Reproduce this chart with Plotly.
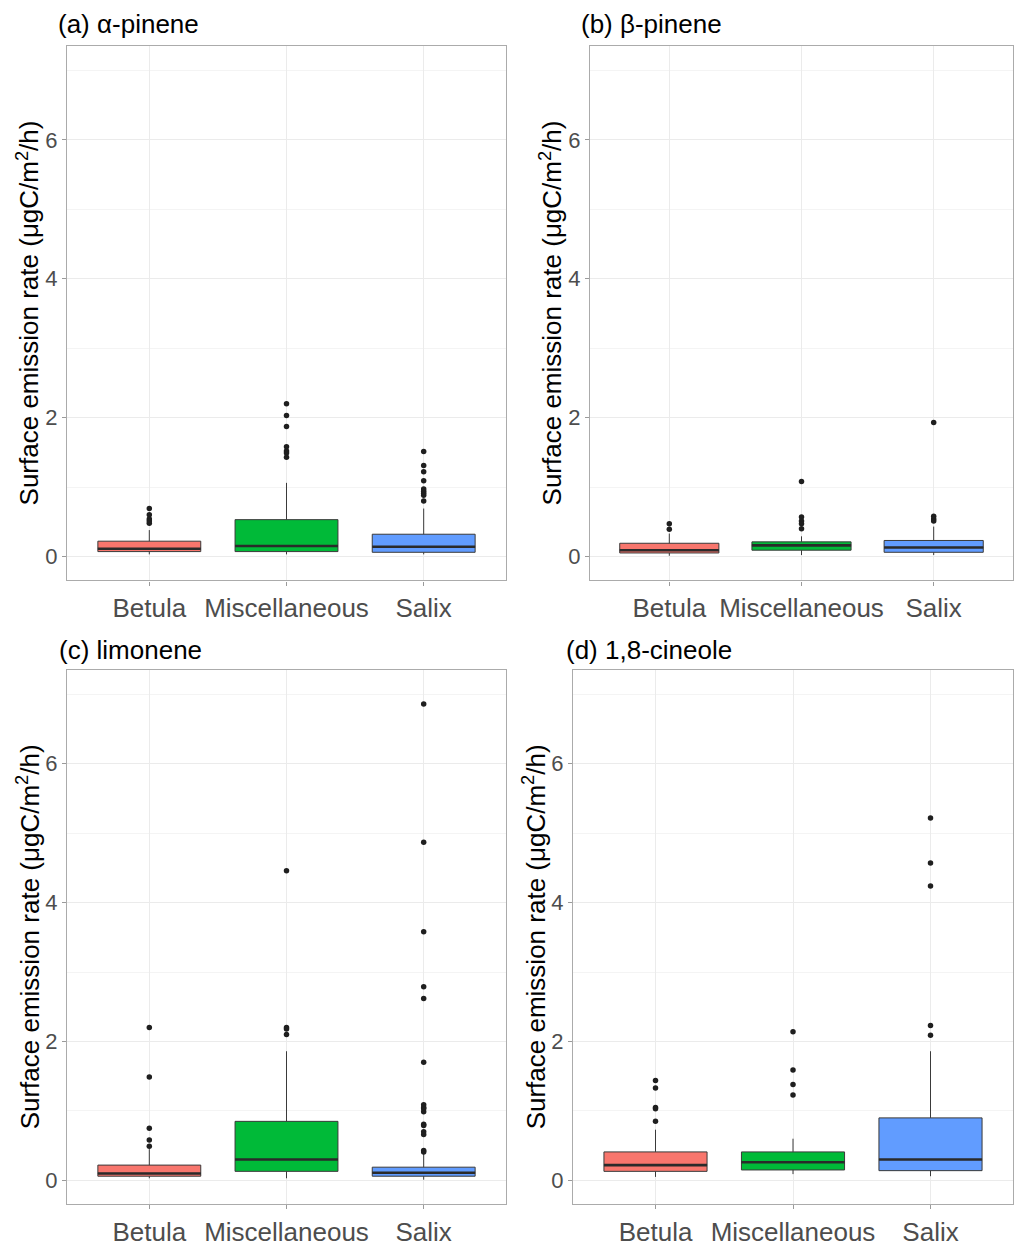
import plotly.graph_objects as go

categories = ["Betula", "Miscellaneous", "Salix"]
fill_colors = ["#F8766D", "#00BA38", "#619CFF"]
panel_titles = ["(a) α-pinene", "(b) β-pinene", "(c) limonene", "(d) 1,8-cineole"]
y_title = "Surface emission rate (μgC/m<sup>2</sup>/h)"
y_ticks = [0, 2, 4, 6]
y_minor = [1, 3, 5, 7]

# (a) alpha-pinene
q1_a = [0.07, 0.07, 0.06]
med_a = [0.11, 0.15, 0.14]
q3_a = [0.22, 0.53, 0.32]
lo_a = [0.03, 0.03, 0.03]
hi_a = [0.38, 1.06, 0.69]
out_a = [[0.69, 0.60, 0.54, 0.51, 0.48],
         [2.20, 2.03, 1.87, 1.58, 1.52, 1.49, 1.43],
         [1.51, 1.31, 1.22, 1.09, 0.97, 0.94, 0.91, 0.88, 0.80]]

# (b) beta-pinene
q1_b = [0.05, 0.09, 0.06]
med_b = [0.09, 0.16, 0.13]
q3_b = [0.19, 0.21, 0.23]
lo_b = [0.01, 0.02, 0.02]
hi_b = [0.33, 0.29, 0.43]
out_b = [[0.47, 0.39],
         [1.08, 0.57, 0.51, 0.47, 0.40],
         [1.93, 0.58, 0.54, 0.51]]

# (c) limonene
q1_c = [0.06, 0.13, 0.06]
med_c = [0.10, 0.30, 0.11]
q3_c = [0.22, 0.85, 0.19]
lo_c = [0.03, 0.03, 0.01]
hi_c = [0.45, 1.86, 0.40]
out_c = [[2.20, 1.49, 0.75, 0.58, 0.49],
         [4.46, 2.20, 2.18, 2.10],
         [6.86, 4.87, 3.58, 2.79, 2.62, 1.70, 1.09, 1.05, 1.03, 0.99,
          0.81, 0.79, 0.70, 0.66, 0.43, 0.41]]

# (d) 1,8-cineole
q1_d = [0.13, 0.15, 0.14]
med_d = [0.22, 0.26, 0.30]
q3_d = [0.41, 0.41, 0.90]
lo_d = [0.05, 0.09, 0.06]
hi_d = [0.73, 0.60, 1.86]
out_d = [[1.44, 1.33, 1.05, 1.03, 0.85],
         [2.14, 1.59, 1.38, 1.23],
         [5.22, 4.57, 4.24, 2.23, 2.09]]

panels = [
    (q1_a, med_a, q3_a, lo_a, hi_a, out_a),
    (q1_b, med_b, q3_b, lo_b, hi_b, out_b),
    (q1_c, med_c, q3_c, lo_c, hi_c, out_c),
    (q1_d, med_d, q3_d, lo_d, hi_d, out_d),
]

W, H = 1016, 1247
FONT = "Liberation Sans, Arial, sans-serif"
BOX_W = 0.75

# pixel geometry of each panel: (left, right, top, bottom)
geom = [(67, 506, 47, 587), (590, 1013, 47, 587),
        (67, 506, 678, 1218), (573, 1013, 678, 1218)]

fig = go.Figure()

for p, (q1, med, q3, lo, hi, outs) in enumerate(panels):
    xa = "x" if p == 0 else f"x{p+1}"
    ya = "y" if p == 0 else f"y{p+1}"
    for i, cat in enumerate(categories):
        fig.add_trace(go.Box(
            x=[i], q1=[q1[i]], median=[med[i]], q3=[q3[i]],
            lowerfence=[lo[i]], upperfence=[hi[i]],
            fillcolor=fill_colors[i], line=dict(color="#3a3a3a", width=1),
            whiskerwidth=0, width=BOX_W, boxpoints=False,
            xaxis=xa, yaxis=ya, showlegend=False, name=cat,
        ))
        fig.add_trace(go.Scatter(
            x=[i - BOX_W / 2, i + BOX_W / 2], y=[med[i], med[i]],
            mode="lines", line=dict(color="#2a2a2a", width=2.6),
            xaxis=xa, yaxis=ya, showlegend=False, hoverinfo="skip",
        ))
        fig.add_trace(go.Scatter(
            x=[i] * len(outs[i]), y=outs[i], mode="markers",
            marker=dict(color="#1f1f1f", size=5.5),
            xaxis=xa, yaxis=ya, showlegend=False,
        ))

layout = dict(
    width=W, height=H, autosize=False,
    margin=dict(l=0, r=0, t=0, b=0),
    paper_bgcolor="white", plot_bgcolor="white",
    font=dict(family=FONT),
    showlegend=False,
)

annotations = []
title_pos = [(56, 24), (579, 24), (57, 657), (564, 657)]
for p, (l, r, t, b) in enumerate(geom):
    key = "" if p == 0 else str(p + 1)
    yanchor_name = "y" if p == 0 else f"y{p+1}"
    xanchor_name = "x" if p == 0 else f"x{p+1}"
    layout["xaxis" + key] = dict(
        domain=[l / W, r / W], anchor=yanchor_name,
        range=[-0.6, 2.6], tickvals=[0, 1, 2], ticktext=categories,
        showgrid=True, gridcolor="#EBEBEB", gridwidth=1,
        zeroline=False, showline=True, mirror=True,
        linecolor="#ABABAB", linewidth=1.3,
        ticks="outside", ticklen=4, tickcolor="#9A9A9A",
        tickfont=dict(size=26, color="#4D4D4D", family=FONT),
    )
    layout["yaxis" + key] = dict(
        domain=[1 - b / H, 1 - t / H], anchor=xanchor_name,
        range=[-0.345, 7.345], tickvals=y_ticks,
        showgrid=True, gridcolor="#EBEBEB", gridwidth=1,
        minor=dict(tickvals=y_minor, showgrid=True, gridcolor="#F4F4F4", ticks=""),
        zeroline=False, showline=True, mirror=True,
        linecolor="#ABABAB", linewidth=1.3,
        ticks="outside", ticklen=4, tickcolor="#9A9A9A",
        tickfont=dict(size=22, color="#4D4D4D", family=FONT),
    )
    tx, ty = title_pos[p]
    annotations.append(dict(
        text=panel_titles[p], x=tx / W, y=1 - ty / H, xref="paper", yref="paper",
        xanchor="left", yanchor="middle", showarrow=False,
        font=dict(size=26, color="black", family=FONT),
    ))
    annotations.append(dict(
        text=y_title, x=(l - 39) / W, y=1 - (t + b) / 2 / H,
        xref="paper", yref="paper", xanchor="center", yanchor="middle",
        textangle=-90, showarrow=False,
        font=dict(size=26, color="black", family=FONT),
    ))

layout["annotations"] = annotations
fig.update_layout(**layout)
fig.write_html("out.html", config={"displayModeBar": False},
               post_script="document.body.style.margin='0';")
